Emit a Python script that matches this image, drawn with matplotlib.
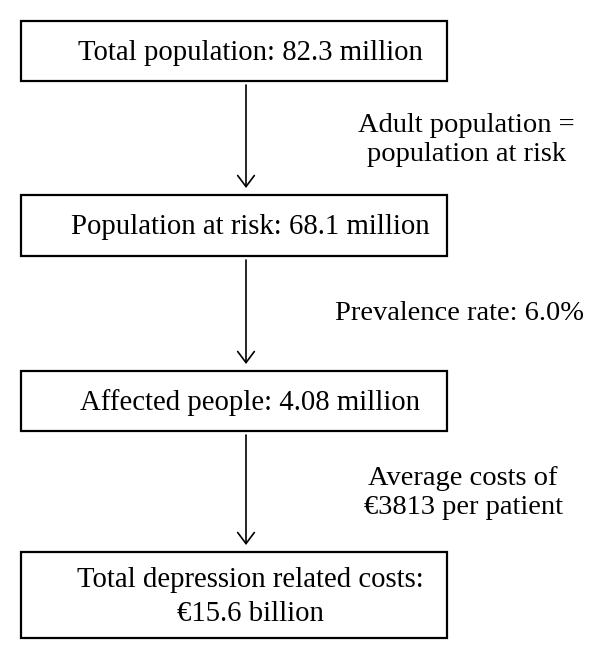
import matplotlib
matplotlib.use('Agg')
import matplotlib.pyplot as plt
from matplotlib.patches import Rectangle

plt.rcParams['font.family'] = ['Liberation Serif', 'DejaVu Serif']

# flowchart content
box_labels = [
    'Total population: 82.3 million',
    'Population at risk: 68.1 million',
    'Affected people: 4.08 million',
    'Total depression related costs:\n€15.6 billion',
]
step_labels = [
    'Adult population =\npopulation at risk',
    'Prevalence rate: 6.0%',
    'Average costs of\n€3813 per patient',
]

# layout in pixel units (top, bottom) of each box
box_rows = [(21, 81), (195, 256), (371, 431), (552, 638)]
step_x = [358, 335, 463]
step_ha = ['left', 'left', 'center']
step_y = [140, 314, 493]
box_left, box_right = 21, 447
text_x = 250
arrow_x = 246

fig = plt.figure(figsize=(6.0, 6.59), dpi=100)
ax = fig.add_axes([0, 0, 1, 1])
ax.set_xlim(0, 600)
ax.set_ylim(659, 0)
ax.axis('off')

for (top, bottom), label in zip(box_rows, box_labels):
    ax.add_patch(Rectangle((box_left, top), box_right - box_left, bottom - top,
                           fill=False, edgecolor='black', linewidth=1.6))
    ax.text(text_x, (top + bottom) / 2 + 2, label, ha='center', va='center',
            fontsize=20.7, linespacing=1.4)

for i, label in enumerate(step_labels):
    start = box_rows[i][1] + 4
    end = box_rows[i + 1][0] - 7
    ax.annotate('', xy=(arrow_x, end), xytext=(arrow_x, start),
                arrowprops=dict(arrowstyle='->,head_length=0.8,head_width=0.6',
                                color='black', lw=1.2, shrinkA=0, shrinkB=0))
    ax.text(step_x[i], step_y[i], label, ha=step_ha[i], va='center',
            multialignment='center', fontsize=20.5, linespacing=1.2)

fig.savefig('out.png', dpi=100, facecolor='white')
